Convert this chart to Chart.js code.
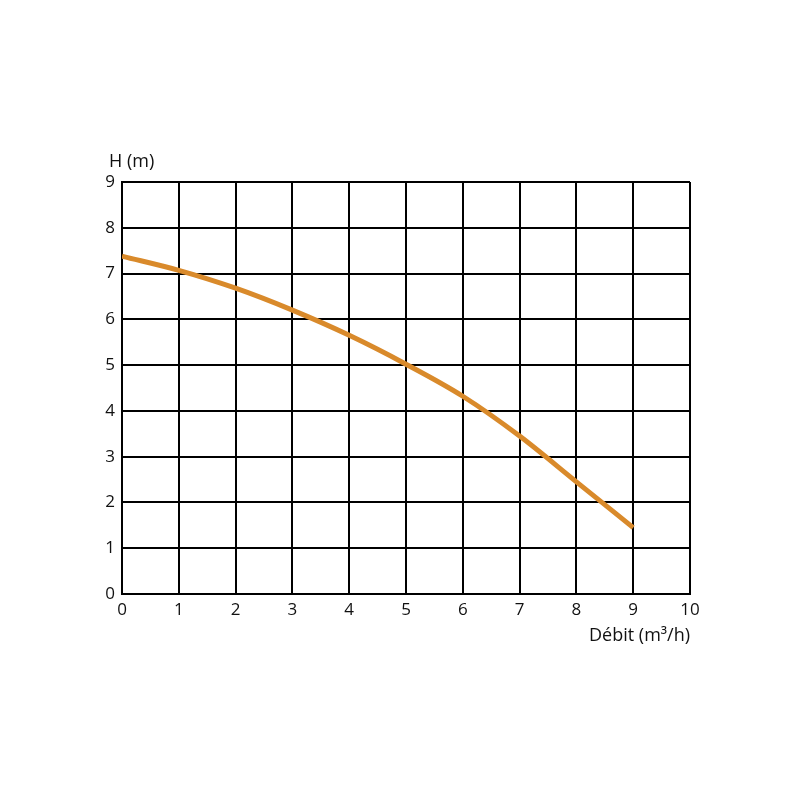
<!DOCTYPE html>
<html>
<head>
<meta charset="utf-8">
<script src="https://cdn.jsdelivr.net/npm/chart.js@4"></script>
<style>
  html, body { margin: 0; padding: 0; background: #fff; }
  canvas { display: block; }
</style>
</head>
<body>
<canvas id="chart" width="800" height="800"></canvas>
<script>
// débit (m3/h) and hauteur (m)
const debit = [0, 1, 2, 3, 4, 5, 6, 7, 8, 9];
const hauteur = [7.38, 7.07, 6.68, 6.2, 5.65, 5.02, 4.32, 3.45, 2.45, 1.45];
const yTitle = "H (m)";
const xTitle = "Débit (m³/h)";

const points = debit.map((d, i) => ({ x: d, y: hauteur[i] }));
const tickFont = { family: "Open Sans", size: 17 };

const titles = {
  id: "titles",
  afterDraw(chart) {
    const ctx = chart.ctx;
    const area = chart.chartArea;
    ctx.save();
    ctx.fillStyle = "#111";
    ctx.font = "18px 'Open Sans'";
    ctx.textBaseline = "middle";
    ctx.textAlign = "left";
    ctx.fillText(yTitle, 109, area.top - 20);
    ctx.textAlign = "right";
    ctx.fillText(xTitle, area.right, area.bottom + 42);
    ctx.restore();
  }
};

new Chart(document.getElementById("chart"), {
  type: "line",
  data: {
    datasets: [{
      data: points,
      borderColor: "#d98a2b",
      borderWidth: 5,
      pointRadius: 0,
      cubicInterpolationMode: "monotone",
      fill: false
    }]
  },
  options: {
    responsive: false,
    animation: false,
    layout: { padding: { top: 182, right: 110, bottom: 0, left: 0 } },
    plugins: { legend: { display: false }, tooltip: { enabled: false } },
    scales: {
      x: {
        type: "linear",
        min: 0, max: 10,
        afterFit(scale) { scale.height = 206; },
        ticks: { stepSize: 1, color: "#111", font: tickFont, padding: 6 },
        grid: { color: "#000", lineWidth: 2, drawTicks: false },
        border: { color: "#000", width: 2 }
      },
      y: {
        min: 0, max: 9,
        afterFit(scale) { scale.width = 122; },
        ticks: { stepSize: 1, color: "#111", font: tickFont, padding: 7 },
        grid: { color: "#000", lineWidth: 2, drawTicks: false },
        border: { color: "#000", width: 2 }
      }
    }
  },
  plugins: [titles]
});
</script>
</body>
</html>
